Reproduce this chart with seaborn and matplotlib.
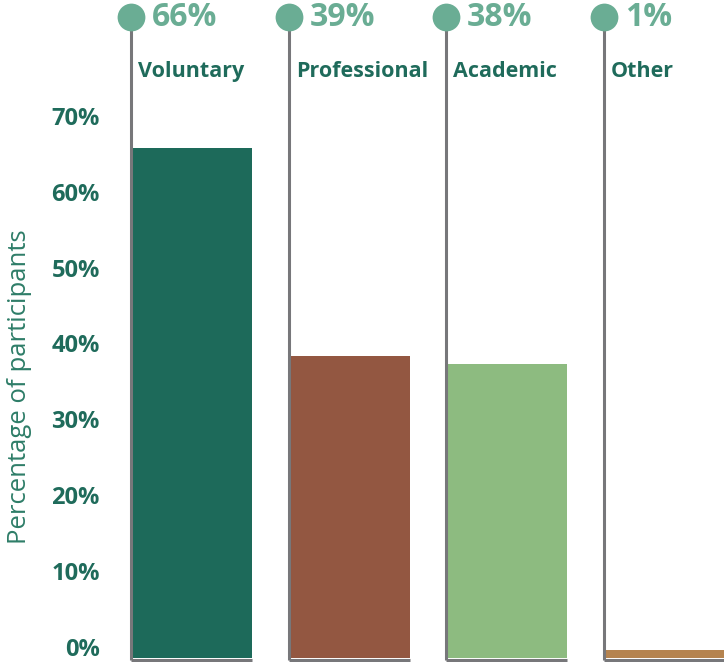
import matplotlib
matplotlib.use("Agg")
import matplotlib.pyplot as plt
import matplotlib.transforms as mtransforms
import seaborn as sns
import pandas as pd

# Participant background categories and their shares (%)
categories = ["Voluntary", "Professional", "Academic", "Other"]
shares = [66, 39, 38, 1]
bar_colors = ["#1d6a5a", "#935741", "#8dbb80", "#b5834f"]
y_ticks = [0, 10, 20, 30, 40, 50, 60, 70]

DARK_GREEN = "#1f6b5b"
LIGHT_GREEN = "#6aad94"
LINE_GREY = "#77777a"

sns.set_theme(style="white")
plt.rcParams["font.family"] = ["Open Sans", "DejaVu Sans"]

df = pd.DataFrame({"category": categories, "share": shares})

fig = plt.figure(figsize=(7.24, 6.62), dpi=100)
ax = fig.add_axes([115 / 724, 4 / 662, 609 / 724, 658 / 662])

sns.barplot(
    data=df, x="category", y="share", hue="category",
    palette=bar_colors, saturation=1, width=0.767, legend=False,
    edgecolor="none", ax=ax, zorder=2,
)

ax.set_ylim(0, 85.1)
ax.set_xlim(-0.485, 3.377)
sns.despine(ax=ax, left=True, bottom=True, top=True, right=True)

ax.set_yticks(y_ticks)
ax.set_yticklabels([f"{t}%" for t in y_ticks], fontsize=17, fontweight="bold",
                   color=DARK_GREEN)
ax.tick_params(axis="y", length=0, pad=11)
# lift the lower tick labels slightly so the bottom one stays inside the figure
for t, lab in zip(y_ticks, ax.get_yticklabels()):
    dy = (11 - 10 * t / 70) / 100
    lab.set_transform(lab.get_transform()
                      + mtransforms.ScaledTranslation(0, dy, fig.dpi_scale_trans))
ax.set_xticks([])
ax.set_xlabel("")
ax.set_ylabel("Percentage of participants", fontsize=18.5, color="#2e7d68")
ax.yaxis.set_label_coords(-0.137, 0.413)
ax.grid(False)

blend = mtransforms.blended_transform_factory(ax.transData, ax.transAxes)

for patch, cat, val in zip(ax.patches, categories, shares):
    x0 = patch.get_x()
    x1 = x0 + patch.get_width()
    # stem from the marker down to the base, plus the base under the bar
    ax.plot([x0, x0], [-0.003, 0.974], transform=blend, color=LINE_GREY,
            lw=2.2, clip_on=False, zorder=3, solid_capstyle="butt")
    ax.plot([x0, x1], [-0.003, -0.003], transform=blend, color=LINE_GREY,
            lw=2.2, clip_on=False, zorder=3, solid_capstyle="butt")
    ax.scatter([x0], [0.974], transform=blend, s=400, color=LIGHT_GREEN,
               clip_on=False, zorder=4, linewidths=0)
    ax.annotate(f"{val}%", xy=(x0, 0.974), xycoords=blend,
                xytext=(15, 0), textcoords="offset points",
                ha="left", va="center", fontsize=23, fontweight="bold",
                color=LIGHT_GREEN, annotation_clip=False)
    ax.annotate(cat, xy=(x0, 0.891), xycoords=blend,
                xytext=(5, 0), textcoords="offset points",
                ha="left", va="center", fontsize=15.5, fontweight="bold",
                color=DARK_GREEN, annotation_clip=False)

fig.savefig("out.png", dpi=100)
